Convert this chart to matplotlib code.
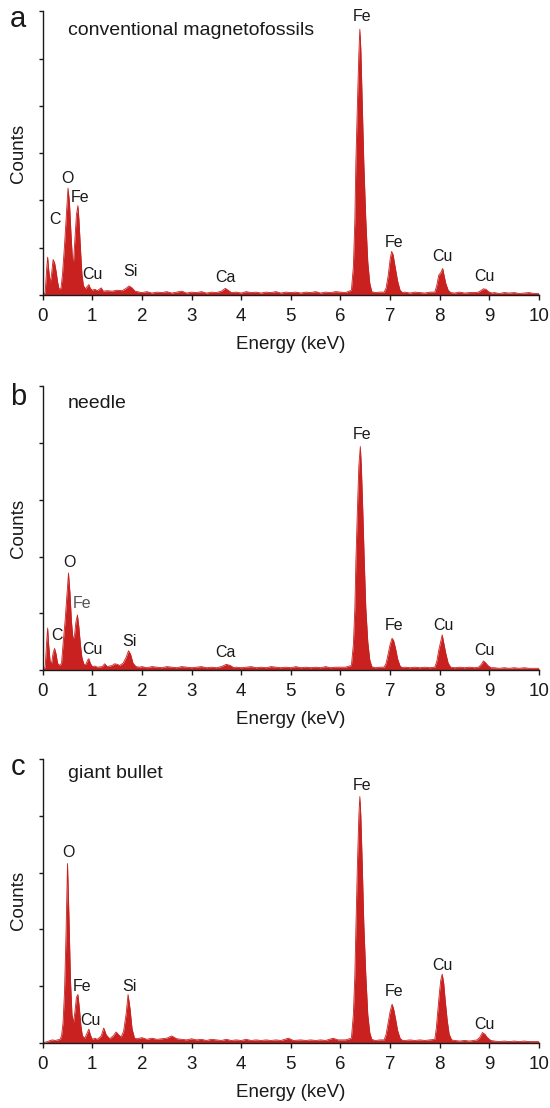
import matplotlib
matplotlib.use("Agg")
import matplotlib.pyplot as plt

plt.rcParams['font.family'] = ['Liberation Sans', 'DejaVu Sans']

RED = '#c8211f'
INK = '#1a1a1a'

# --- panel a: conventional magnetofossils (energy keV, counts in arbitrary tick units) ---
a_energy = [0.00, 0.05, 0.08, 0.10, 0.12, 0.15, 0.18, 0.21, 0.24, 0.27, 0.30, 0.33, 0.37,
            0.40, 0.44, 0.48, 0.51, 0.54, 0.57, 0.60, 0.62, 0.65, 0.68, 0.71, 0.73, 0.76,
            0.79, 0.82, 0.86, 0.90, 0.93, 0.96, 1.00, 1.05, 1.10, 1.18, 1.22, 1.30, 1.40,
            1.50, 1.60, 1.68, 1.74, 1.80, 1.86,
            1.9, 2.0, 2.1, 2.2, 2.3, 2.4, 2.5, 2.6, 2.7, 2.8, 2.9, 3.0, 3.1, 3.2, 3.3, 3.4,
            3.5, 3.6, 3.68, 3.75, 3.8, 3.9, 4.0, 4.1, 4.2, 4.3, 4.4, 4.5, 4.6, 4.7, 4.8,
            4.9, 5.0, 5.1, 5.2, 5.3, 5.4, 5.5, 5.6, 5.7, 5.8, 5.9, 6.0, 6.1,
            6.22, 6.26, 6.29, 6.31, 6.34, 6.37, 6.39, 6.41, 6.44, 6.47, 6.51, 6.55, 6.59, 6.63,
            6.7, 6.8, 6.88, 6.92, 6.96, 7.00, 7.03, 7.06, 7.10, 7.15, 7.20, 7.25,
            7.3, 7.4, 7.5, 7.6, 7.7, 7.8, 7.90, 7.94, 7.98, 8.02, 8.06, 8.08, 8.12, 8.17, 8.22,
            8.3, 8.4, 8.5, 8.6, 8.7, 8.78, 8.84, 8.88, 8.93, 8.98, 9.05,
            9.1, 9.2, 9.3, 9.4, 9.5, 9.6, 9.7, 9.8, 9.9, 10.0]
a_counts = [0.00, 0.05, 0.55, 0.80, 0.55, 0.25, 0.45, 0.75, 0.68, 0.50, 0.28, 0.12, 0.15,
            0.45, 1.05, 1.75, 2.26, 1.95, 1.30, 0.75, 0.68, 1.20, 1.70, 1.89, 1.60, 1.00,
            0.45, 0.20, 0.13, 0.18, 0.22, 0.14, 0.10, 0.12, 0.09, 0.15, 0.08, 0.09, 0.08,
            0.10, 0.09, 0.14, 0.19, 0.15, 0.08,
            0.07, 0.05, 0.07, 0.04, 0.06, 0.05, 0.07, 0.04, 0.06, 0.08, 0.04, 0.06, 0.05, 0.07, 0.04, 0.06,
            0.05, 0.08, 0.14, 0.09, 0.05, 0.06, 0.04, 0.07, 0.05, 0.06, 0.04, 0.06, 0.05, 0.07, 0.04,
            0.06, 0.05, 0.06, 0.04, 0.06, 0.05, 0.07, 0.04, 0.06, 0.05, 0.07, 0.06, 0.05,
            0.10, 0.60, 1.60, 2.80, 4.00, 5.10, 5.62, 5.20, 4.00, 2.80, 1.60, 0.70, 0.25, 0.07,
            0.05, 0.06, 0.06, 0.15, 0.40, 0.75, 0.92, 0.85, 0.60, 0.30, 0.10, 0.05,
            0.06, 0.04, 0.06, 0.05, 0.04, 0.06, 0.06, 0.20, 0.42, 0.47, 0.56, 0.45, 0.25, 0.10, 0.05,
            0.04, 0.06, 0.04, 0.05, 0.05, 0.06, 0.10, 0.13, 0.12, 0.07, 0.04,
            0.05, 0.03, 0.05, 0.04, 0.05, 0.03, 0.04, 0.05, 0.03, 0.03]

# --- panel b: needle ---
b_energy = [0.00, 0.05, 0.08, 0.10, 0.12, 0.15, 0.18, 0.21, 0.24, 0.27, 0.30, 0.34, 0.38,
            0.41, 0.45, 0.49, 0.52, 0.55, 0.58, 0.61, 0.64, 0.67, 0.70, 0.73, 0.76, 0.79,
            0.83, 0.87, 0.91, 0.93, 0.96, 1.00, 1.05, 1.10, 1.20, 1.25, 1.30, 1.40, 1.45,
            1.50, 1.55, 1.62, 1.68, 1.73, 1.77, 1.82, 1.88,
            1.95, 2.0, 2.1, 2.2, 2.3, 2.4, 2.5, 2.6, 2.7, 2.8, 2.9, 3.0, 3.1, 3.2, 3.3, 3.4,
            3.5, 3.6, 3.7, 3.78, 3.85, 3.9, 4.0, 4.1, 4.2, 4.3, 4.4, 4.5, 4.6, 4.7, 4.8,
            4.9, 5.0, 5.1, 5.2, 5.3, 5.4, 5.5, 5.6, 5.7, 5.8, 5.9, 6.0, 6.1,
            6.22, 6.26, 6.29, 6.31, 6.34, 6.37, 6.40, 6.42, 6.45, 6.48, 6.51, 6.55, 6.59, 6.63,
            6.7, 6.8, 6.88, 6.92, 6.96, 7.00, 7.04, 7.07, 7.11, 7.15, 7.20, 7.25,
            7.3, 7.4, 7.5, 7.6, 7.7, 7.8, 7.90, 7.94, 7.98, 8.02, 8.05, 8.08, 8.12, 8.17, 8.22,
            8.3, 8.4, 8.5, 8.6, 8.7, 8.78, 8.84, 8.88, 8.92, 8.97, 9.03,
            9.1, 9.2, 9.3, 9.4, 9.5, 9.6, 9.7, 9.8, 9.9, 10.0]
b_counts = [0.00, 0.05, 0.50, 0.74, 0.45, 0.15, 0.12, 0.30, 0.38, 0.28, 0.12, 0.08, 0.12,
            0.45, 0.85, 1.35, 1.71, 1.35, 0.85, 0.55, 0.60, 0.85, 0.97, 0.75, 0.45, 0.22,
            0.10, 0.10, 0.18, 0.20, 0.12, 0.06, 0.07, 0.05, 0.06, 0.11, 0.06, 0.08, 0.11,
            0.10, 0.08, 0.12, 0.22, 0.34, 0.28, 0.12, 0.06,
            0.05, 0.06, 0.04, 0.06, 0.05, 0.04, 0.06, 0.05, 0.04, 0.06, 0.05, 0.04, 0.05, 0.06, 0.04, 0.05,
            0.04, 0.06, 0.10, 0.08, 0.04, 0.05, 0.04, 0.05, 0.06, 0.04, 0.05, 0.04, 0.06, 0.05, 0.04,
            0.05, 0.04, 0.06, 0.04, 0.05, 0.04, 0.05, 0.04, 0.06, 0.04, 0.05, 0.05, 0.05,
            0.08, 0.45, 1.10, 1.90, 2.80, 3.60, 3.94, 3.60, 2.80, 1.90, 1.10, 0.50, 0.18, 0.06,
            0.04, 0.05, 0.05, 0.12, 0.28, 0.45, 0.56, 0.52, 0.38, 0.20, 0.07, 0.04,
            0.05, 0.04, 0.05, 0.04, 0.05, 0.04, 0.05, 0.15, 0.35, 0.50, 0.62, 0.48, 0.30, 0.12, 0.05,
            0.04, 0.05, 0.04, 0.05, 0.04, 0.05, 0.10, 0.16, 0.13, 0.08, 0.04,
            0.04, 0.03, 0.04, 0.03, 0.04, 0.03, 0.04, 0.03, 0.03, 0.03]

# --- panel c: giant bullet ---
c_energy = [0.00, 0.10, 0.15, 0.20, 0.25, 0.30, 0.35, 0.38, 0.41, 0.44, 0.47, 0.50, 0.53,
            0.56, 0.59, 0.62, 0.65, 0.68, 0.71, 0.74, 0.77, 0.80, 0.85, 0.90, 0.93, 0.96,
            1.00, 1.05, 1.10, 1.18, 1.23, 1.28, 1.35, 1.42, 1.48, 1.53, 1.58, 1.63, 1.68,
            1.72, 1.76, 1.80, 1.85,
            1.9, 2.0, 2.1, 2.2, 2.3, 2.4, 2.5, 2.6, 2.7, 2.8, 2.9, 3.0, 3.1, 3.2, 3.3, 3.4,
            3.5, 3.6, 3.7, 3.8, 3.9, 4.0, 4.1, 4.2, 4.3, 4.4, 4.5, 4.6, 4.7, 4.8,
            4.95, 5.05, 5.2, 5.3, 5.4, 5.5, 5.6, 5.7, 5.85, 5.95, 6.1,
            6.22, 6.26, 6.29, 6.31, 6.34, 6.37, 6.39, 6.41, 6.44, 6.47, 6.51, 6.55, 6.59, 6.63,
            6.7, 6.8, 6.88, 6.92, 6.96, 7.00, 7.04, 7.07, 7.11, 7.15, 7.20, 7.25,
            7.3, 7.4, 7.5, 7.6, 7.7, 7.8, 7.90, 7.93, 7.96, 7.99, 8.02, 8.05, 8.08, 8.11, 8.15,
            8.19, 8.24, 8.3, 8.4, 8.5, 8.6, 8.68, 8.75, 8.81, 8.86, 8.91, 8.96, 9.03,
            9.1, 9.2, 9.3, 9.4, 9.5, 9.6, 9.7, 9.8, 9.9, 10.0]
c_counts = [0.00, 0.02, 0.04, 0.05, 0.04, 0.05, 0.06, 0.12, 0.35, 0.90, 1.90, 3.16, 2.20,
            1.10, 0.50, 0.35, 0.55, 0.80, 0.85, 0.60, 0.30, 0.12, 0.08, 0.18, 0.24, 0.14,
            0.06, 0.08, 0.06, 0.12, 0.26, 0.14, 0.07, 0.12, 0.19, 0.14, 0.10, 0.20, 0.50,
            0.85, 0.60, 0.25, 0.08,
            0.07, 0.09, 0.06, 0.08, 0.06, 0.07, 0.08, 0.12, 0.07, 0.06, 0.05, 0.07, 0.05, 0.06, 0.04, 0.06,
            0.05, 0.04, 0.06, 0.04, 0.05, 0.04, 0.06, 0.04, 0.05, 0.04, 0.05, 0.04, 0.05, 0.04,
            0.08, 0.04, 0.05, 0.04, 0.05, 0.04, 0.05, 0.04, 0.08, 0.05, 0.05,
            0.08, 0.50, 1.20, 2.00, 3.10, 4.00, 4.34, 4.00, 3.10, 2.10, 1.20, 0.50, 0.18, 0.06,
            0.04, 0.05, 0.05, 0.15, 0.35, 0.55, 0.68, 0.60, 0.42, 0.22, 0.08, 0.04,
            0.04, 0.05, 0.04, 0.05, 0.04, 0.05, 0.06, 0.25, 0.55, 0.85, 1.10, 1.21, 1.05, 0.75, 0.40,
            0.15, 0.05, 0.04, 0.03, 0.04, 0.03, 0.04, 0.05, 0.10, 0.18, 0.15, 0.09, 0.04,
            0.03, 0.02, 0.03, 0.02, 0.03, 0.02, 0.03, 0.02, 0.02, 0.02]

# peak labels: (text, energy, height)
a_labels = [("C", 0.25, 1.60), ("O", 0.49, 2.47), ("Fe", 0.75, 2.07), ("Cu", 1.01, 0.44),
            ("Si", 1.76, 0.49), ("Ca", 3.69, 0.36), ("Fe", 6.43, 5.88), ("Fe", 7.08, 1.12),
            ("Cu", 8.05, 0.82), ("Cu", 8.91, 0.40)]
b_labels = [("C", 0.29, 0.60), ("O", 0.53, 1.90), ("Fe", 0.79, 1.18), ("Cu", 1.01, 0.37),
            ("Si", 1.74, 0.51), ("Ca", 3.69, 0.30), ("Fe", 6.43, 4.16), ("Fe", 7.08, 0.79),
            ("Cu", 8.07, 0.79), ("Cu", 8.91, 0.35)]
c_labels = [("O", 0.51, 3.36), ("Fe", 0.79, 1.00), ("Cu", 0.97, 0.40), ("Si", 1.74, 1.00),
            ("Fe", 6.43, 4.53), ("Fe", 7.08, 0.91), ("Cu", 8.05, 1.37), ("Cu", 8.91, 0.33)]

panels = [
    ("a", "conventional magnetofossils", a_energy, a_counts, a_labels, 6, 0.7338, 0.934, 0.983),
    ("b", "needle", b_energy, b_counts, b_labels, 5, 0.3953, 0.940, 0.642),
    ("c", "giant bullet", c_energy, c_counts, c_labels, 5, 0.0589, 0.950, 0.308),
]

fig = plt.figure(figsize=(5.5, 11.08), dpi=100)

for letter, title, energy, counts, labels, ytop, bottom, title_y, letter_y in panels:
    ax = fig.add_axes([0.0776, bottom, 0.9024, 0.2560])
    ax.fill_between(energy, counts, 0, color=RED, linewidth=0)
    ax.plot(energy, counts, color=RED, linewidth=0.6)
    ax.set_xlim(0, 10)
    ax.set_ylim(0, ytop)
    ax.set_xticks(range(11))
    ax.set_yticks(range(ytop + 1))
    ax.set_yticklabels([])
    ax.spines['top'].set_visible(False)
    ax.spines['right'].set_visible(False)
    for s in ('left', 'bottom'):
        ax.spines[s].set_linewidth(1.0)
        ax.spines[s].set_color(INK)
    ax.tick_params(axis='x', direction='out', length=3.4, width=1.0, color=INK,
                   labelsize=13.5, labelcolor=INK, pad=6)
    ax.tick_params(axis='y', direction='out', length=2.6, width=1.0, color=INK)
    ax.set_xlabel("Energy (keV)", fontsize=13.5, color=INK)
    ax.xaxis.set_label_coords(0.5, -0.146)
    ax.set_ylabel("Counts", fontsize=13.5, color=INK)
    ax.yaxis.set_label_coords(-0.032, 0.5)
    ax.text(0.051, title_y, title, transform=ax.transAxes, fontsize=14,
            color=INK, ha='left', va='center')
    for name, xe, yc in labels:
        col = '#555555' if (letter == 'b' and name == 'Fe' and xe < 1) else INK
        ax.text(xe, yc, name, fontsize=11.5, color=col, ha='center', va='center')
    fig.text(0.033, letter_y, letter, fontsize=21, color=INK, ha='center', va='center')

fig.savefig("out.png", dpi=100)
